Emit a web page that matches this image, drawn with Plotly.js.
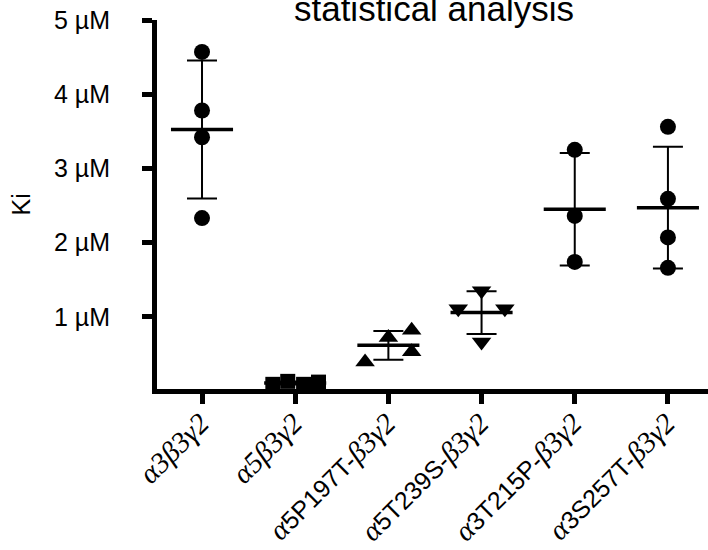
<!DOCTYPE html>
<html><head><meta charset="utf-8">
<script src="https://cdn.plot.ly/plotly-3.0.1.min.js"></script>
<style>html,body{margin:0;padding:0;overflow:hidden;background:#fff}</style>
</head><body><div id="chart" style="width:708px;height:550px"></div>
<script>
// ---- data ----
const categories = ['α3β3γ2', 'α5β3γ2', 'α5P197T-β3γ2', 'α5T239S-β3γ2', 'α3T215P-β3γ2', 'α3S257T-β3γ2'];
const yTickValues = [1, 2, 3, 4, 5];
const yTickLabels = ['1 µM', '2 µM', '3 µM', '4 µM', '5 µM'];
const titleText = 'statistical analysis';
const yLabel = 'Ki';

const ki_a3b3g2       = [4.57, 3.78, 3.42, 2.33];
const ki_a5b3g2       = [0.09, 0.13, 0.09, 0.12];
const ki_a5P197T      = [0.39, 0.72, 0.82, 0.53];
const ki_a5T239S      = [1.35, 1.11, 1.11, 0.66];
const ki_a3T215P      = [3.25, 2.36, 1.74];
const ki_a3S257T      = [3.56, 2.59, 2.07, 1.66];

// horizontal scatter offsets of the points (layout, not data)
const offsets = [
  [0, 0, 0, 0],
  [-0.24, -0.08, 0.09, 0.25],
  [-0.25, 0, 0.25, 0.25],
  [0, -0.25, 0.25, 0],
  [0, 0, 0],
  [0, 0, 0, 0]
];
const groups = [ki_a3b3g2, ki_a5b3g2, ki_a5P197T, ki_a5T239S, ki_a3T215P, ki_a3S257T];
const symbols = ['circle', 'square', 'triangle-up', 'triangle-down', 'circle', 'circle'];
const sizes = [16, 15, 17, 17, 16, 16];

// ---- helpers ----
const mean = a => a.reduce((s, v) => s + v, 0) / a.length;
const sd = a => { const m = mean(a); return Math.sqrt(a.reduce((s, v) => s + (v - m) * (v - m), 0) / (a.length - 1)); };

const serif = s => '<span style="font-family:\'Liberation Serif\',\'Times New Roman\',serif;font-style:italic;font-size:29px">' + s + '</span>';
function fmtLabel(c) {
  const i = c.indexOf('-');
  if (i < 0) return serif(c);
  return serif(c[0]) + c.slice(1, i + 1) + serif(c.slice(i + 1));
}
const tickText = categories.map(fmtLabel);
const xIdx = categories.map((c, i) => i);

const traces = [];
traces.push({
  type: 'scatter', mode: 'markers', x: xIdx, y: groups.map(mean),
  marker: {size: 1, color: 'rgba(0,0,0,0)'},
  error_y: {type: 'data', array: groups.map(sd), visible: true, color: '#000', thickness: 2, width: 15},
  error_x: {type: 'constant', value: 0.333, visible: true, color: '#000', thickness: 3.5, width: 0},
  cliponaxis: false, hoverinfo: 'skip', showlegend: false
});
groups.forEach((g, gi) => {
  traces.push({
    type: 'scatter', mode: 'markers',
    x: g.map((v, k) => gi + offsets[gi][k]), y: g,
    marker: {symbol: symbols[gi], size: sizes[gi], color: '#000', line: {width: 0}},
    cliponaxis: false, showlegend: false, name: categories[gi]
  });
});

const layout = {
  width: 708, height: 550,
  margin: {l: 157, r: 0, t: 20, b: 160.5, pad: 0},
  paper_bgcolor: '#fff', plot_bgcolor: '#fff',
  font: {family: 'Liberation Sans, Arial, sans-serif', color: '#000'},
  showlegend: false,
  title: {text: titleText, font: {size: 35, color: '#000'}, xref: 'container', yref: 'container',
          x: 0.613, xanchor: 'center', y: 0.984, yanchor: 'middle'},
  xaxis: {
    range: [-0.483, 5.43], tickmode: 'array', tickvals: xIdx, ticktext: tickText,
    tickangle: -45, ticks: 'outside', ticklen: 10, tickwidth: 5, tickcolor: '#000',
    showline: true, linewidth: 5, linecolor: '#000', showgrid: false, zeroline: false,
    tickfont: {size: 25, color: '#000'}, ticklabelstandoff: -5, automargin: false
  },
  yaxis: {
    range: [0.027, 5], tickmode: 'array', tickvals: yTickValues, ticktext: yTickLabels,
    ticks: 'outside', ticklen: 10, tickwidth: 5, tickcolor: '#000',
    showline: true, linewidth: 5, linecolor: '#000', showgrid: false, zeroline: false,
    tickfont: {size: 25, color: '#000'}, ticklabelstandoff: 27, automargin: false
  },
  annotations: [{
    text: yLabel, xref: 'paper', yref: 'paper', x: -0.2486, y: 0.5,
    xanchor: 'center', yanchor: 'middle', textangle: -90, showarrow: false,
    font: {size: 25, color: '#000'}
  }]
};
Plotly.newPlot('chart', traces, layout, {displayModeBar: false, staticPlot: true});
</script></body></html>
